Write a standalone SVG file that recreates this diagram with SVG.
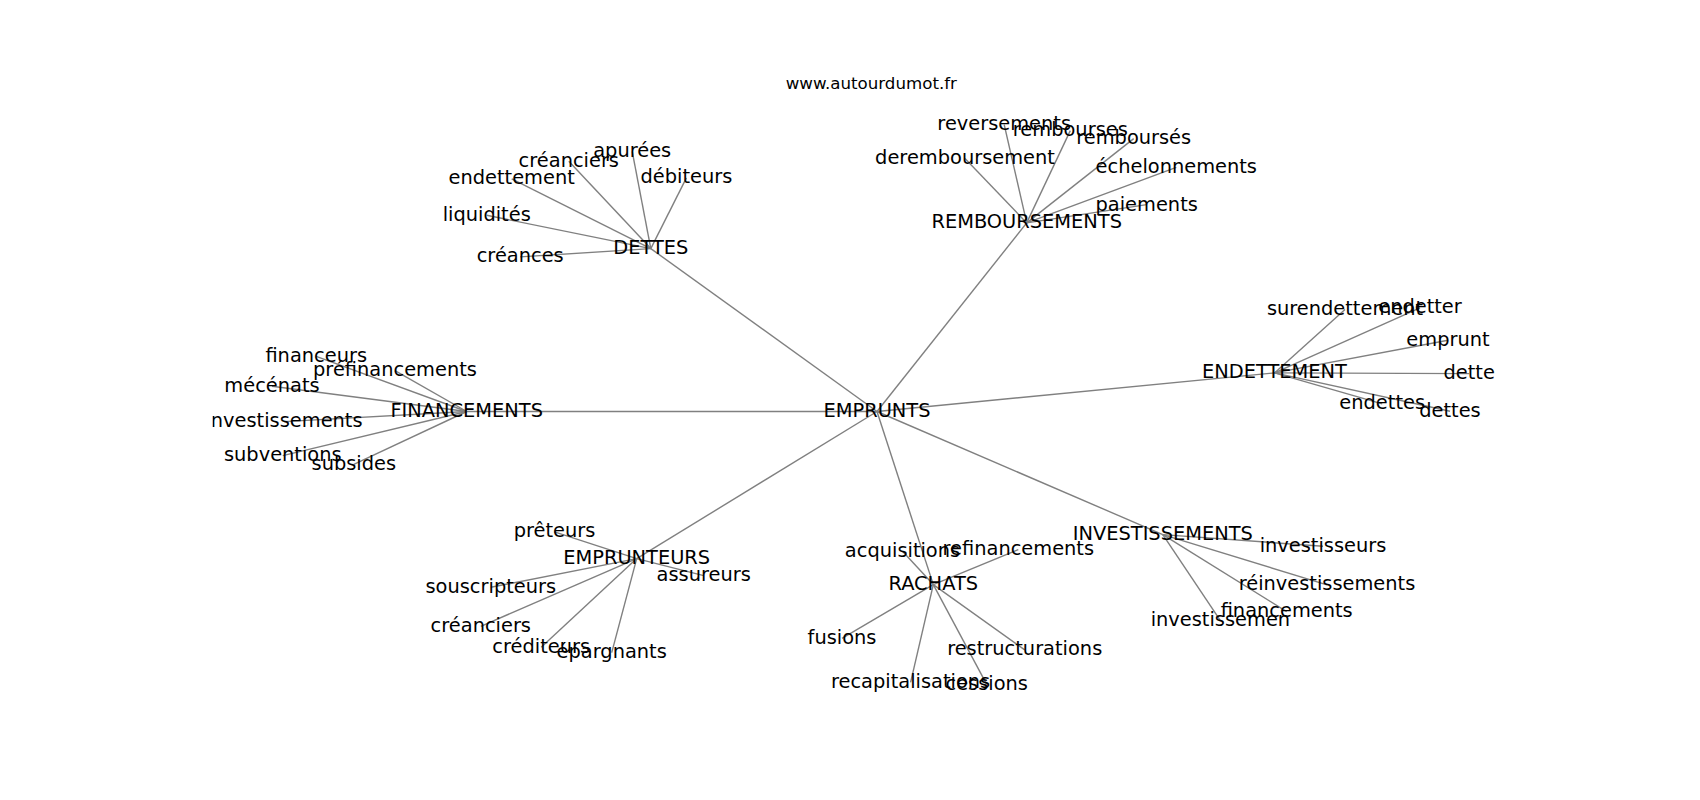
<svg xmlns="http://www.w3.org/2000/svg" width="1700" height="800" viewBox="0 0 1700 800">
<style>
.e{stroke:#808080;stroke-width:1.4;fill:none}
.n{font-family:"DejaVu Sans","Liberation Sans",sans-serif;font-size:19.4px;text-anchor:middle;fill:#000}
.t{font-family:"DejaVu Sans","Liberation Sans",sans-serif;font-size:16.67px;text-anchor:middle;fill:#000}
</style>
<defs><clipPath id="ax"><rect x="212.5" y="96" width="1317.5" height="616"/></clipPath></defs>
<rect width="1700" height="800" fill="#fff"/>
<text class="t" x="871.3" y="89.3">www.autourdumot.fr</text>
<g id="edges" class="e">
<line x1="877" y1="411.5" x2="466.7" y2="411.5"/>
<line x1="877" y1="411.5" x2="650.8" y2="248.6"/>
<line x1="877" y1="411.5" x2="1026.7" y2="222.9"/>
<line x1="877" y1="411.5" x2="1274.5" y2="372.9"/>
<line x1="877" y1="411.5" x2="1162.8" y2="534.6"/>
<line x1="877" y1="411.5" x2="933.3" y2="584.6"/>
<line x1="877" y1="411.5" x2="636.7" y2="558.6"/>
<line x1="650.8" y1="248.6" x2="520.2" y2="256.9"/>
<line x1="650.8" y1="248.6" x2="486.7" y2="215.3"/>
<line x1="650.8" y1="248.6" x2="511.7" y2="178.9"/>
<line x1="650.8" y1="248.6" x2="568.8" y2="161.3"/>
<line x1="650.8" y1="248.6" x2="632.2" y2="151.3"/>
<line x1="650.8" y1="248.6" x2="686.4" y2="177.9"/>
<line x1="1026.7" y1="222.9" x2="965" y2="158.6"/>
<line x1="1026.7" y1="222.9" x2="1004.2" y2="124.6"/>
<line x1="1026.7" y1="222.9" x2="1070.3" y2="130.6"/>
<line x1="1026.7" y1="222.9" x2="1133.7" y2="138.6"/>
<line x1="1026.7" y1="222.9" x2="1176.3" y2="167.3"/>
<line x1="1026.7" y1="222.9" x2="1146.7" y2="204.6"/>
<line x1="1274.5" y1="372.9" x2="1345" y2="309.6"/>
<line x1="1274.5" y1="372.9" x2="1420" y2="307.9"/>
<line x1="1274.5" y1="372.9" x2="1448" y2="340.3"/>
<line x1="1274.5" y1="372.9" x2="1469.2" y2="373.6"/>
<line x1="1274.5" y1="372.9" x2="1382.2" y2="403.9"/>
<line x1="1274.5" y1="372.9" x2="1450" y2="411.3"/>
<line x1="466.7" y1="411.5" x2="316.2" y2="356.3"/>
<line x1="466.7" y1="411.5" x2="395" y2="370.6"/>
<line x1="466.7" y1="411.5" x2="272" y2="386.3"/>
<line x1="466.7" y1="411.5" x2="284" y2="421.6"/>
<line x1="466.7" y1="411.5" x2="282.8" y2="455.6"/>
<line x1="466.7" y1="411.5" x2="353.8" y2="464.4"/>
<line x1="636.7" y1="558.6" x2="554.5" y2="531.9"/>
<line x1="636.7" y1="558.6" x2="703.7" y2="575.6"/>
<line x1="636.7" y1="558.6" x2="490.8" y2="587.3"/>
<line x1="636.7" y1="558.6" x2="480.8" y2="626.3"/>
<line x1="636.7" y1="558.6" x2="541.2" y2="647.3"/>
<line x1="636.7" y1="558.6" x2="611.7" y2="652.6"/>
<line x1="933.3" y1="584.6" x2="902.5" y2="551.3"/>
<line x1="933.3" y1="584.6" x2="1018.3" y2="549.6"/>
<line x1="933.3" y1="584.6" x2="842" y2="638.3"/>
<line x1="933.3" y1="584.6" x2="1024.7" y2="649.9"/>
<line x1="933.3" y1="584.6" x2="910.6" y2="682.3"/>
<line x1="933.3" y1="584.6" x2="986.7" y2="684.4"/>
<line x1="1162.8" y1="534.6" x2="1323" y2="546.3"/>
<line x1="1162.8" y1="534.6" x2="1327" y2="584.9"/>
<line x1="1162.8" y1="534.6" x2="1286.7" y2="611.6"/>
<line x1="1162.8" y1="534.6" x2="1220.4" y2="620.6"/>
</g>
<g id="labels" class="n" clip-path="url(#ax)">
<g id="n-emprunts"><text x="877" y="416.9">EMPRUNTS</text></g>
<g id="n-dettes"><text x="650.8" y="254">DETTES</text></g>
<g id="n-remboursements"><text x="1026.7" y="228.3">REMBOURSEMENTS</text></g>
<g id="n-endettement"><text x="1274.5" y="378.3">ENDETTEMENT</text></g>
<g id="n-financements"><text x="466.7" y="416.9">FINANCEMENTS</text></g>
<g id="n-emprunteurs"><text x="636.7" y="564">EMPRUNTEURS</text></g>
<g id="n-rachats"><text x="933.3" y="590">RACHATS</text></g>
<g id="n-investissements"><text x="1162.8" y="540">INVESTISSEMENTS</text></g>
<g id="l-creances"><text x="520.2" y="262.3">créances</text></g>
<g id="l-liquidites"><text x="486.7" y="220.7">liquidités</text></g>
<g id="l-endettement"><text x="511.7" y="184.3">endettement</text></g>
<g id="l-creanciers1"><text x="568.8" y="166.7">créanciers</text></g>
<g id="l-apurees"><text x="632.2" y="156.7">apurées</text></g>
<g id="l-debiteurs"><text x="686.4" y="183.3">débiteurs</text></g>
<g id="l-deremboursement"><text x="965" y="164">deremboursement</text></g>
<g id="l-reversements"><text x="1004.2" y="130">reversements</text></g>
<g id="l-rembourses"><text x="1070.3" y="136">rembourses</text></g>
<g id="l-remboursees"><text x="1133.7" y="144">remboursés</text></g>
<g id="l-echelonnements"><text x="1176.3" y="172.7">échelonnements</text></g>
<g id="l-paiements"><text x="1146.7" y="210.5">paiements</text></g>
<g id="l-surendettement"><text x="1345" y="315">surendettement</text></g>
<g id="l-endetter"><text x="1420" y="313.3">endetter</text></g>
<g id="l-emprunt"><text x="1448" y="345.7">emprunt</text></g>
<g id="l-dette"><text x="1469.2" y="379">dette</text></g>
<g id="l-endettes"><text x="1382.2" y="409.3">endettes</text></g>
<g id="l-dettes"><text x="1450" y="416.7">dettes</text></g>
<g id="l-financeurs"><text x="316.2" y="361.7">financeurs</text></g>
<g id="l-prefinancements"><text x="395" y="376">préfinancements</text></g>
<g id="l-mecenats"><text x="272" y="391.7">mécénats</text></g>
<g id="l-investissements"><text x="284" y="427">investissements</text></g>
<g id="l-subventions"><text x="282.8" y="461">subventions</text></g>
<g id="l-subsides"><text x="353.8" y="469.8">subsides</text></g>
<g id="l-preteurs"><text x="554.5" y="537.3">prêteurs</text></g>
<g id="l-assureurs"><text x="703.7" y="581">assureurs</text></g>
<g id="l-souscripteurs"><text x="490.8" y="592.7">souscripteurs</text></g>
<g id="l-creanciers2"><text x="480.8" y="631.7">créanciers</text></g>
<g id="l-crediteurs"><text x="541.2" y="652.7">créditeurs</text></g>
<g id="l-epargnants"><text x="611.7" y="658">épargnants</text></g>
<g id="l-acquisitions"><text x="902.5" y="556.7">acquisitions</text></g>
<g id="l-refinancements"><text x="1018.3" y="555">refinancements</text></g>
<g id="l-fusions"><text x="842" y="643.7">fusions</text></g>
<g id="l-restructurations"><text x="1024.7" y="655.3">restructurations</text></g>
<g id="l-recapitalisations"><text x="910.6" y="687.7">recapitalisations</text></g>
<g id="l-cessions"><text x="986.7" y="689.8">cessions</text></g>
<g id="l-investisseurs"><text x="1323" y="551.7">investisseurs</text></g>
<g id="l-reinvestissements"><text x="1327" y="590.3">réinvestissements</text></g>
<g id="l-financements"><text x="1286.7" y="617">financements</text></g>
<g id="l-investissemen"><text x="1220.4" y="626">investissemen</text></g>
</g>
</svg>
